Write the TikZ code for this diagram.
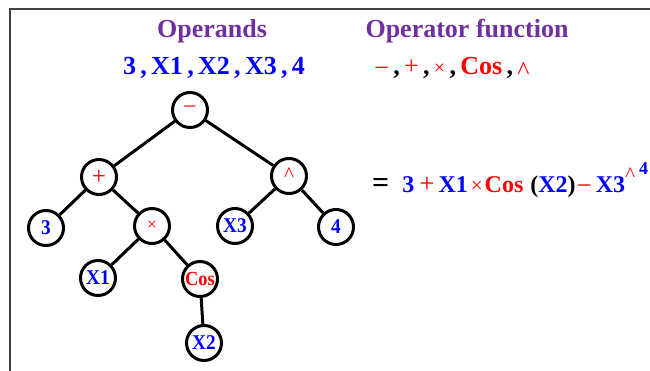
\documentclass[tikz,border=0pt]{standalone}
\usepackage{fontspec}
\setmainfont{Liberation Serif}
\newfontfamily\nodefont[FakeStretch=0.92]{Liberation Serif}
\definecolor{opurple}{RGB}{112,48,160}
\definecolor{oblue}{RGB}{0,0,255}
\definecolor{ored}{RGB}{255,0,0}
\newcommand{\fsz}[1]{\fontsize{#1}{#1}\selectfont}
\newcommand{\rd}[2]{\textcolor{ored}{\mdseries\fsz{#1}#2}}
\begin{document}
\begin{tikzpicture}[x=1pt,y=-1pt,
  tn/.style={circle,draw,line width=3pt,minimum size=35pt,inner sep=0pt},
  leaf/.style={tn,text=oblue,font=\nodefont\fsz{21}\bfseries},
  opn/.style={tn,text=ored,font=\fsz{24}},
  edge/.style={line width=3pt},
  head/.style={text=opurple,font=\fsz{26}\bfseries,inner sep=0pt}]
\useasboundingbox (0,0) rectangle (650,371);
\draw[line width=1.3pt,black!75] (10,372) -- (10,9) -- (651,9);
\node[head,anchor=base] (h1) at (212,38) {Operands};
\node[head,anchor=base] (h2) at (467,38) {Operator function};
\node[inner sep=0pt,anchor=base,text=oblue,font=\fsz{26}\bfseries] (ops) at (214,75) {3\,,\,X1\,,\,X2\,,\,X3\,,\,4};
\node[inner sep=0pt,anchor=base,font=\fsz{26}\bfseries] (fns) at (452,75) {\raisebox{-2pt}{\rd{26}{−}}\,,\,\rd{26}{+}\,,\,\rd{20}{×}\,,\,\textcolor{ored}{Cos}\,,\,\raisebox{-5pt}{\rd{26}{\^{}}}};
\node[opn] (root) at (190,110) {−};
\node[opn,font=\fsz{25}] (plus) at (99,177) {+};
\node[opn,font=\fsz{21}] (pow) at (289,176) {\raisebox{2pt}{\^{}}};
\node[leaf] (three) at (46,228) {3};
\node[opn,font=\fsz{18}] (times) at (152,226) {×};
\node[leaf] (x3) at (235,226) {X3};
\node[leaf] (four) at (336,227) {4};
\node[leaf] (x1) at (98,278) {X1};
\node[tn,text=ored,font=\nodefont\fsz{20}\bfseries] (cos) at (200,279) {Cos};
\node[leaf] (x2) at (204,343) {X2};
\draw[edge] (root) -- (plus);
\draw[edge] (root) -- (pow);
\draw[edge] (plus) -- (three);
\draw[edge] (plus) -- (times);
\draw[edge] (pow) -- (x3);
\draw[edge] (pow) -- (four);
\draw[edge] (times) -- (x1);
\draw[edge] (times) -- (cos);
\draw[edge] (cos) -- (x2);
\node[anchor=base west,inner sep=0pt,font=\fsz{24}\bfseries] (eq) at (372,193) {{\fsz{30}=}\hspace{13pt}\textcolor{oblue}{3}\hspace{5pt}\rd{27}{+}\hspace{4pt}\textcolor{oblue}{X1}\hspace{3pt}\rd{21}{×}\hspace{2pt}\textcolor{ored}{Cos}\hspace{7pt}(\textcolor{oblue}{X2})\hspace{1pt}\raisebox{-2pt}{\rd{27}{−}}\hspace{4pt}\textcolor{oblue}{X3}\hspace{0pt}\raisebox{11pt}{\rd{21}{\^{}}}\hspace{4pt}\raisebox{18pt}{\textcolor{oblue}{\fsz{18}4}}};
\end{tikzpicture}
\end{document}
